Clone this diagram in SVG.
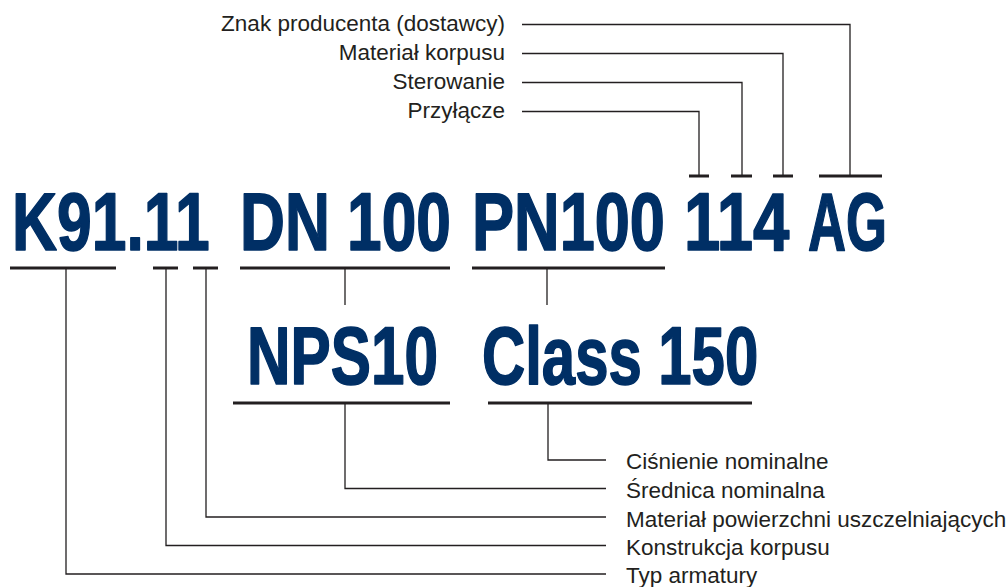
<svg xmlns="http://www.w3.org/2000/svg" width="1008" height="587" viewBox="0 0 1008 587">
<style>
.code{font-family:"Liberation Sans",Arial,sans-serif;font-weight:bold;font-size:81px;fill:#002f65;stroke:#002f65;stroke-width:1.6;stroke-linejoin:round}
.lbl{font-family:"Liberation Sans",Arial,sans-serif;font-size:22.5px;fill:#231f20}
.ul{stroke:#231f20;stroke-width:3;fill:none}
.cn{stroke:#231f20;stroke-width:1.3;fill:none}
</style>
<rect width="1008" height="587" fill="#ffffff"/>
<g id="code-top">
<text class="code" transform="translate(12,250) scale(0.77,1)">K91.11</text>
<text class="code" transform="translate(240,250) scale(0.768,1)">DN 100</text>
<text class="code" transform="translate(472,250) scale(0.779,1)">PN100</text>
<text class="code" transform="translate(684,250) scale(0.807,1)">114</text>
<text class="code" transform="translate(808,250) scale(0.65,1)">AG</text>
</g>
<g id="code-alt">
<text class="code" transform="translate(247,384) scale(0.744,1)">NPS10</text>
<text class="code" transform="translate(482,384) scale(0.739,1)">Class 150</text>
</g>
<g id="labels-top">
<text class="lbl" x="505" y="31" text-anchor="end">Znak producenta (dostawcy)</text>
<text class="lbl" x="505" y="60" text-anchor="end">Materiał korpusu</text>
<text class="lbl" x="505" y="89" text-anchor="end">Sterowanie</text>
<text class="lbl" x="505" y="118" text-anchor="end">Przyłącze</text>
</g>
<g id="labels-bottom">
<text class="lbl" x="626" y="469">Ciśnienie nominalne</text>
<text class="lbl" x="626" y="498">Średnica nominalna</text>
<text class="lbl" x="626" y="527">Materiał powierzchni uszczelniających</text>
<text class="lbl" x="626" y="555">Konstrukcja korpusu</text>
<text class="lbl" x="626" y="583">Typ armatury</text>
</g>
<g id="connectors">
<line class="ul" x1="10" y1="268" x2="116" y2="268"/>
<line class="ul" x1="153" y1="268" x2="178" y2="268"/>
<line class="ul" x1="193" y1="268" x2="218" y2="268"/>
<line class="ul" x1="240" y1="268" x2="450" y2="268"/>
<line class="ul" x1="472" y1="268" x2="665" y2="268"/>
<line class="ul" x1="233" y1="403" x2="450" y2="403"/>
<line class="ul" x1="488" y1="403" x2="752" y2="403"/>
<line class="ul" x1="689" y1="176" x2="709" y2="176"/>
<line class="ul" x1="731" y1="176" x2="752" y2="176"/>
<line class="ul" x1="773" y1="176" x2="793" y2="176"/>
<line class="ul" x1="819" y1="176" x2="882" y2="176"/>
<polyline class="cn" points="522,24.5 850,24.5 850,176"/>
<polyline class="cn" points="522,53.5 783,53.5 783,176"/>
<polyline class="cn" points="522,82.5 742,82.5 742,176"/>
<polyline class="cn" points="522,111.5 699,111.5 699,176"/>
<line class="cn" x1="345" y1="268" x2="345" y2="305"/>
<line class="cn" x1="547" y1="268" x2="547" y2="305"/>
<polyline class="cn" points="548,403 548,460 606,460"/>
<polyline class="cn" points="345,403 345,488.5 606,488.5"/>
<polyline class="cn" points="206,268 206,517 606,517"/>
<polyline class="cn" points="166,268 166,545.5 606,545.5"/>
<polyline class="cn" points="66,268 66,574 606,574"/>
</g>
</svg>
